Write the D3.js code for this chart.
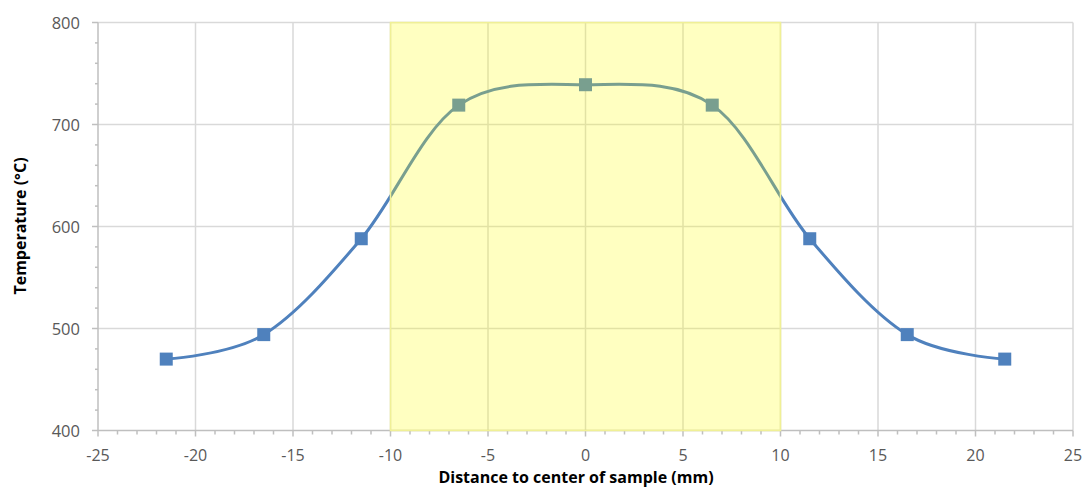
<!DOCTYPE html>
<html><head><meta charset="utf-8">
<script src="https://cdn.jsdelivr.net/npm/d3@7"></script>
<style>body{margin:0;background:#fff}svg{display:block}</style>
</head><body>
<svg id="c" width="1084" height="487"></svg>
<script>
const distances = [-21.5, -16.5, -11.5, -6.5, 0, 6.5, 11.5, 16.5, 21.5];
const temperatures = [470, 494, 588, 719, 739, 719, 588, 494, 470];
const xTicks = [-25, -20, -15, -10, -5, 0, 5, 10, 15, 20, 25];
const yTicks = [400, 500, 600, 700, 800];
const band = [-10, 10];

const svg = d3.select("#c");
const m = {l: 98, r: 1073, t: 22.5, b: 430.5};
const x = d3.scaleLinear().domain([-25, 25]).range([m.l, m.r]);
const y = d3.scaleLinear().domain([400, 800]).range([m.b, m.t]);
const grid = "#d9d9d9", axisC = "#bfbfbf", txt = "#595959";
const font = "'Open Sans', 'Liberation Sans', sans-serif";

// gridlines
svg.append("g").selectAll("line").data(xTicks.slice(1)).join("line")
  .attr("x1", d => x(d)).attr("x2", d => x(d)).attr("y1", m.t).attr("y2", m.b)
  .attr("stroke", grid).attr("stroke-width", 1.5);
svg.append("g").selectAll("line").data(yTicks.slice(1)).join("line")
  .attr("x1", m.l).attr("x2", m.r).attr("y1", d => y(d)).attr("y2", d => y(d))
  .attr("stroke", grid).attr("stroke-width", 1.5);

// minor ticks
const xMinor = d3.range(-25, 25.01, 1);
svg.append("g").selectAll("line").data(xMinor).join("line")
  .attr("x1", d => x(d)).attr("x2", d => x(d)).attr("y1", m.b).attr("y2", d => m.b + (d % 5 === 0 ? 6 : 4))
  .attr("stroke", axisC).attr("stroke-width", 1.5);
const yMinor = d3.range(400, 800.01, 20);
svg.append("g").selectAll("line").data(yMinor).join("line")
  .attr("x1", d => m.l - (d % 100 === 0 ? 6 : 3)).attr("x2", m.l).attr("y1", d => y(d)).attr("y2", d => y(d))
  .attr("stroke", axisC).attr("stroke-width", 1.5);

// axes lines
svg.append("line").attr("x1", m.l).attr("x2", m.r).attr("y1", m.b).attr("y2", m.b).attr("stroke", axisC).attr("stroke-width", 1.5);
svg.append("line").attr("x1", m.l).attr("x2", m.l).attr("y1", m.t).attr("y2", m.b).attr("stroke", axisC).attr("stroke-width", 1.5);

// line + markers
const line = d3.line().x((d, i) => x(distances[i])).y(d => y(d)).curve(d3.curveCardinal.tension(0));
svg.append("path").datum(temperatures).attr("d", line).attr("fill", "none")
  .attr("stroke", "#4f81bd").attr("stroke-width", 3);
const ms = 13;
svg.append("g").selectAll("rect").data(temperatures).join("rect")
  .attr("x", (d, i) => x(distances[i]) - ms / 2).attr("y", d => y(d) - ms / 2)
  .attr("width", ms).attr("height", ms).attr("fill", "#4f81bd");

// yellow band on top
svg.append("rect").attr("x", x(band[0])).attr("y", m.t).attr("width", x(band[1]) - x(band[0]))
  .attr("height", m.b - m.t).attr("fill", "rgb(255,255,0)").attr("fill-opacity", 0.245)
  .attr("stroke", "rgb(240,240,150)").attr("stroke-width", 1.5);

// tick labels
svg.append("g").selectAll("text").data(xTicks).join("text")
  .attr("x", d => x(d)).attr("y", 460.5).attr("text-anchor", "middle")
  .attr("font-family", font).attr("font-size", 16).attr("fill", txt).text(d => d);
svg.append("g").selectAll("text").data(yTicks).join("text")
  .attr("x", 80).attr("y", d => y(d) + 6).attr("text-anchor", "end")
  .attr("font-family", font).attr("font-size", 16.5).attr("fill", txt).text(d => d);

// axis titles
svg.append("text").attr("x", 576).attr("y", 483).attr("text-anchor", "middle")
  .attr("font-family", font).attr("font-weight", "bold").attr("font-size", 16).attr("fill", "#000")
  .text("Distance to center of sample (mm)");
svg.append("text").attr("transform", "translate(26,226) rotate(-90)").attr("text-anchor", "middle")
  .attr("font-family", font).attr("font-weight", "bold").attr("font-size", 16).attr("fill", "#000")
  .text("Temperature (°C)");
</script>
</body></html>
